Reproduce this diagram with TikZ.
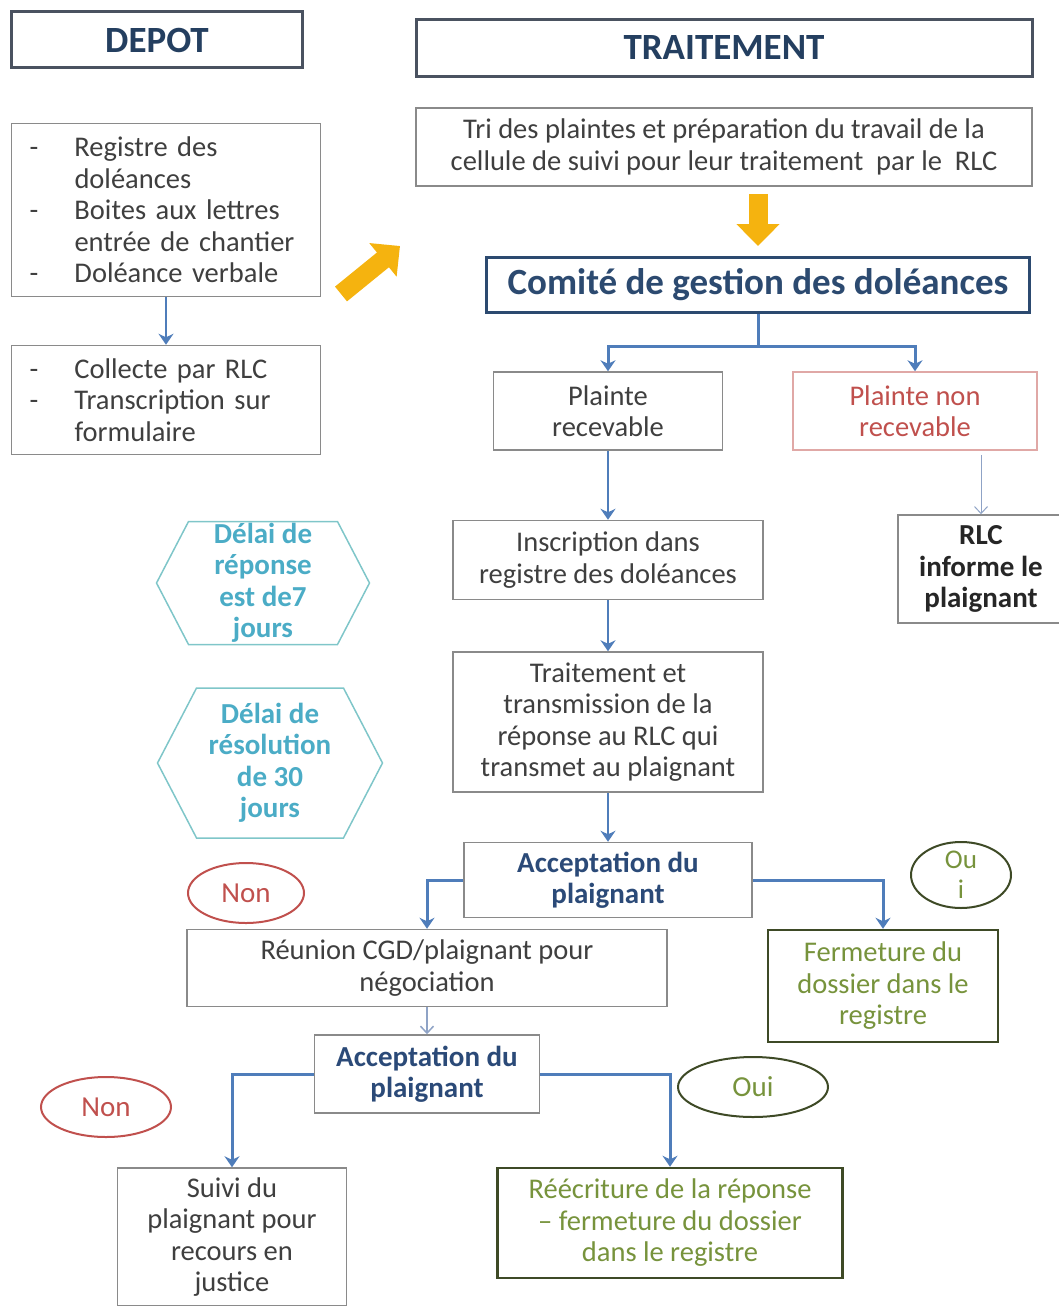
\documentclass[tikz,border=0pt]{standalone}
\usepackage{fontspec}
\setmainfont{Carlito}
\usepackage{tikz}
\usetikzlibrary{shapes,shapes.symbols,arrows,arrows.meta}
\definecolor{textgray}{HTML}{3F3F3F}
\definecolor{boxgray}{HTML}{8A8A8A}
\definecolor{headgray}{HTML}{4A5260}
\definecolor{darkblue}{HTML}{243F60}
\definecolor{accblue}{HTML}{2B4A78}
\definecolor{comiteblue}{HTML}{2C4A70}
\definecolor{arrowblue}{HTML}{4F7DBA}
\definecolor{paleblue}{HTML}{8FA3C6}
\definecolor{rouge}{HTML}{C0504D}
\definecolor{pinkline}{HTML}{E0A8A6}
\definecolor{tealtext}{HTML}{4BACC6}
\definecolor{tealline}{HTML}{7FC6C9}
\definecolor{olivedark}{HTML}{3E4A26}
\definecolor{oltext}{HTML}{77933C}
\definecolor{gold}{HTML}{F5B30F}
\tikzstyle{block} = [rectangle, draw=boxgray, line width=1.5pt, fill=white,
    text=textgray, align=center, inner sep=3pt,
    font=\fontsize{28.5}{31.5}\selectfont]
\tikzstyle{header} = [rectangle, draw=headgray, line width=3pt, text=darkblue,
    minimum height=56pt, font=\fontsize{37}{40}\selectfont\bfseries]
\tikzstyle{liste} = [block, align=left, text width=273pt, inner xsep=18pt]
\tikzstyle{decision} = [block, text=accblue, font=\fontsize{29}{31.5}\selectfont\bfseries]
\tikzstyle{closing} = [block, draw=olivedark, line width=2.5pt, text=oltext]
\tikzstyle{hexa} = [signal, signal to=west and east, signal pointer angle=125,
    draw=tealline, line width=1.5pt, inner sep=0pt]
\tikzstyle{hexatext} = [text=tealtext, align=center,
    font=\fontsize{29}{31.5}\selectfont\bfseries]
\tikzstyle{bulle} = [ellipse, draw, line width=2pt, inner sep=0pt,
    font=\fontsize{29}{30}\selectfont]
\tikzstyle{line} = [draw, line width=3pt, color=arrowblue, -{Stealth[length=11pt,width=15pt]}]
\tikzstyle{thinline} = [line, line width=1.5pt, color=paleblue, -{Straight Barb[length=7pt,width=13pt]}]
\tikzstyle{bigarrow} = [draw, line width=19pt, color=gold, -{Triangle[length=22pt,width=42pt]}]
\newcommand{\puce}{\makebox[45pt][l]{-}}
\newcommand{\retrait}{\hspace*{45pt}}

\begin{document}
\begin{tikzpicture}[x=1pt, y=-1pt, node distance=100pt]
  \useasboundingbox (0,0) rectangle (1059,1306);
    % Place nodes
    \node [header, minimum width=291pt] (depot) at (157,40) {DEPOT};
    \node [header, minimum width=616pt] (traitement) at (724,48) {TRAITEMENT};
    \node [liste, minimum height=173pt] (registre) at (166,210) {\puce Registre des\\
    \retrait doléances\\ \puce Boites aux lettres\\ \retrait entrée de chantier\\
    \puce Doléance verbale};
    \node [liste, minimum height=109pt, below of=registre, node distance=190pt] (collecte) {\puce Collecte par RLC\\
    \puce Transcription sur\\ \retrait formulaire};
    \node [block, minimum width=616pt, minimum height=78pt, below of=traitement, node distance=99pt] (tri) {Tri des plaintes et préparation du travail de la\\
    cellule de suivi pour leur traitement\ \ par le\ \ RLC};
    \node [block, draw=comiteblue, line width=3pt, text=comiteblue, minimum width=543pt,
    minimum height=55pt, font=\fontsize{37}{40}\selectfont\bfseries] (comite) at (758,285) {Comité de gestion des doléances};
    \node [block, minimum width=229pt, minimum height=78pt] (recevable) at (608,411) {Plainte\\ recevable};
    \node [block, draw=pinkline, text=rouge, minimum width=244pt, minimum height=78pt] (nonrecevable) at (915,411) {Plainte non\\ recevable};
    \node [block, text=black!85, minimum width=166pt, minimum height=108pt,
    font=\fontsize{29}{31.5}\selectfont\bfseries] (informe) at (981,569) {RLC\\ informe le\\ plaignant};
    \node [block, minimum width=310pt, minimum height=79pt, below of=recevable, node distance=149pt] (inscription) {Inscription dans\\ registre des doléances};
    \node [block, minimum width=310pt, minimum height=140pt, below of=inscription, node distance=162pt] (transmission) {Traitement et\\ transmission de la\\ réponse au RLC qui\\ transmet au plaignant};
    \node [decision, minimum width=288pt, minimum height=75pt, below of=transmission, node distance=158pt] (acceptA) {Acceptation du\\ plaignant};
    \node [block, minimum width=480pt, minimum height=77pt] (reunion) at (427,968) {Réunion CGD/plaignant pour\\ négociation};
    \node [decision, minimum width=225pt, minimum height=78pt, below of=reunion, node distance=106pt] (acceptB) {Acceptation du\\ plaignant};
    \node [closing, minimum width=230pt, minimum height=112pt] (fermeture) at (883,986) {Fermeture du\\ dossier dans le\\ registre};
    \node [block, minimum width=229pt, minimum height=138pt] (suivi) at (232,1237) {Suivi du\\ plaignant pour\\ recours en\\ justice};
    \node [closing, minimum width=345pt, minimum height=110pt] (reecriture) at (670,1223) {Réécriture de la réponse\\ -- fermeture du dossier\\ dans le registre};
    % delais
    \node [hexa, minimum width=213pt, minimum height=123pt,
    label={[hexatext]center:Délai de\\ réponse\\ est de7\\ jours}] (delaiA) at (263,583) {};
    \node [hexa, minimum width=225pt, minimum height=150pt,
    label={[hexatext]center:Délai de\\ résolution\\ de 30\\ jours}] (delaiB) at (270,763) {};
    % reponses
    \node [bulle, draw=rouge, text=rouge, minimum width=116pt, minimum height=60pt] (nonA) at (246,893) {Non};
    \node [bulle, draw=olivedark, minimum width=100pt, minimum height=66pt,
    label={[text=oltext, align=center, font=\fontsize{27}{30}\selectfont]center:Ou\\ i}] (ouiA) at (961,875) {};
    \node [bulle, draw=rouge, text=rouge, minimum width=130pt, minimum height=60pt] (nonB) at (106,1107) {Non};
    \node [bulle, draw=olivedark, text=oltext, minimum width=150pt, minimum height=60pt] (ouiB) at (753,1087) {Oui};
    \coordinate (depart) at (341,294);
    \coordinate (arrivee) at (400,246);

    % Draw edges
    \path [line, line width=2pt] (registre) -- (collecte);
    \path [bigarrow] (depart) -- (arrivee);
    \path [bigarrow, shorten <=7pt, shorten >=10pt] (comite.north |- tri.south) -- (comite.north);
    \path [line] (comite.south) -- ++(0,32) -| (recevable.north);
    \path [line] (comite.south) -- ++(0,32) -| (nonrecevable.north);
    \path [thinline, line width=1pt, shorten <=4pt] (nonrecevable.south -| informe) -- (informe.north);
    \path [line, line width=2.5pt] (recevable) -- (inscription);
    \path [line, line width=2.5pt] (inscription) -- (transmission);
    \path [line, line width=2.5pt] (transmission) -- (acceptA);
    \path [line] (acceptA.west) -| (reunion.north);
    \path [line] (acceptA.east) -| (fermeture.north);
    \path [thinline] (reunion) -- (acceptB);
    \path [line] (acceptB.west) -| (suivi.north);
    \path [line] (acceptB.east) -| (reecriture.north);
\end{tikzpicture}
\end{document}
